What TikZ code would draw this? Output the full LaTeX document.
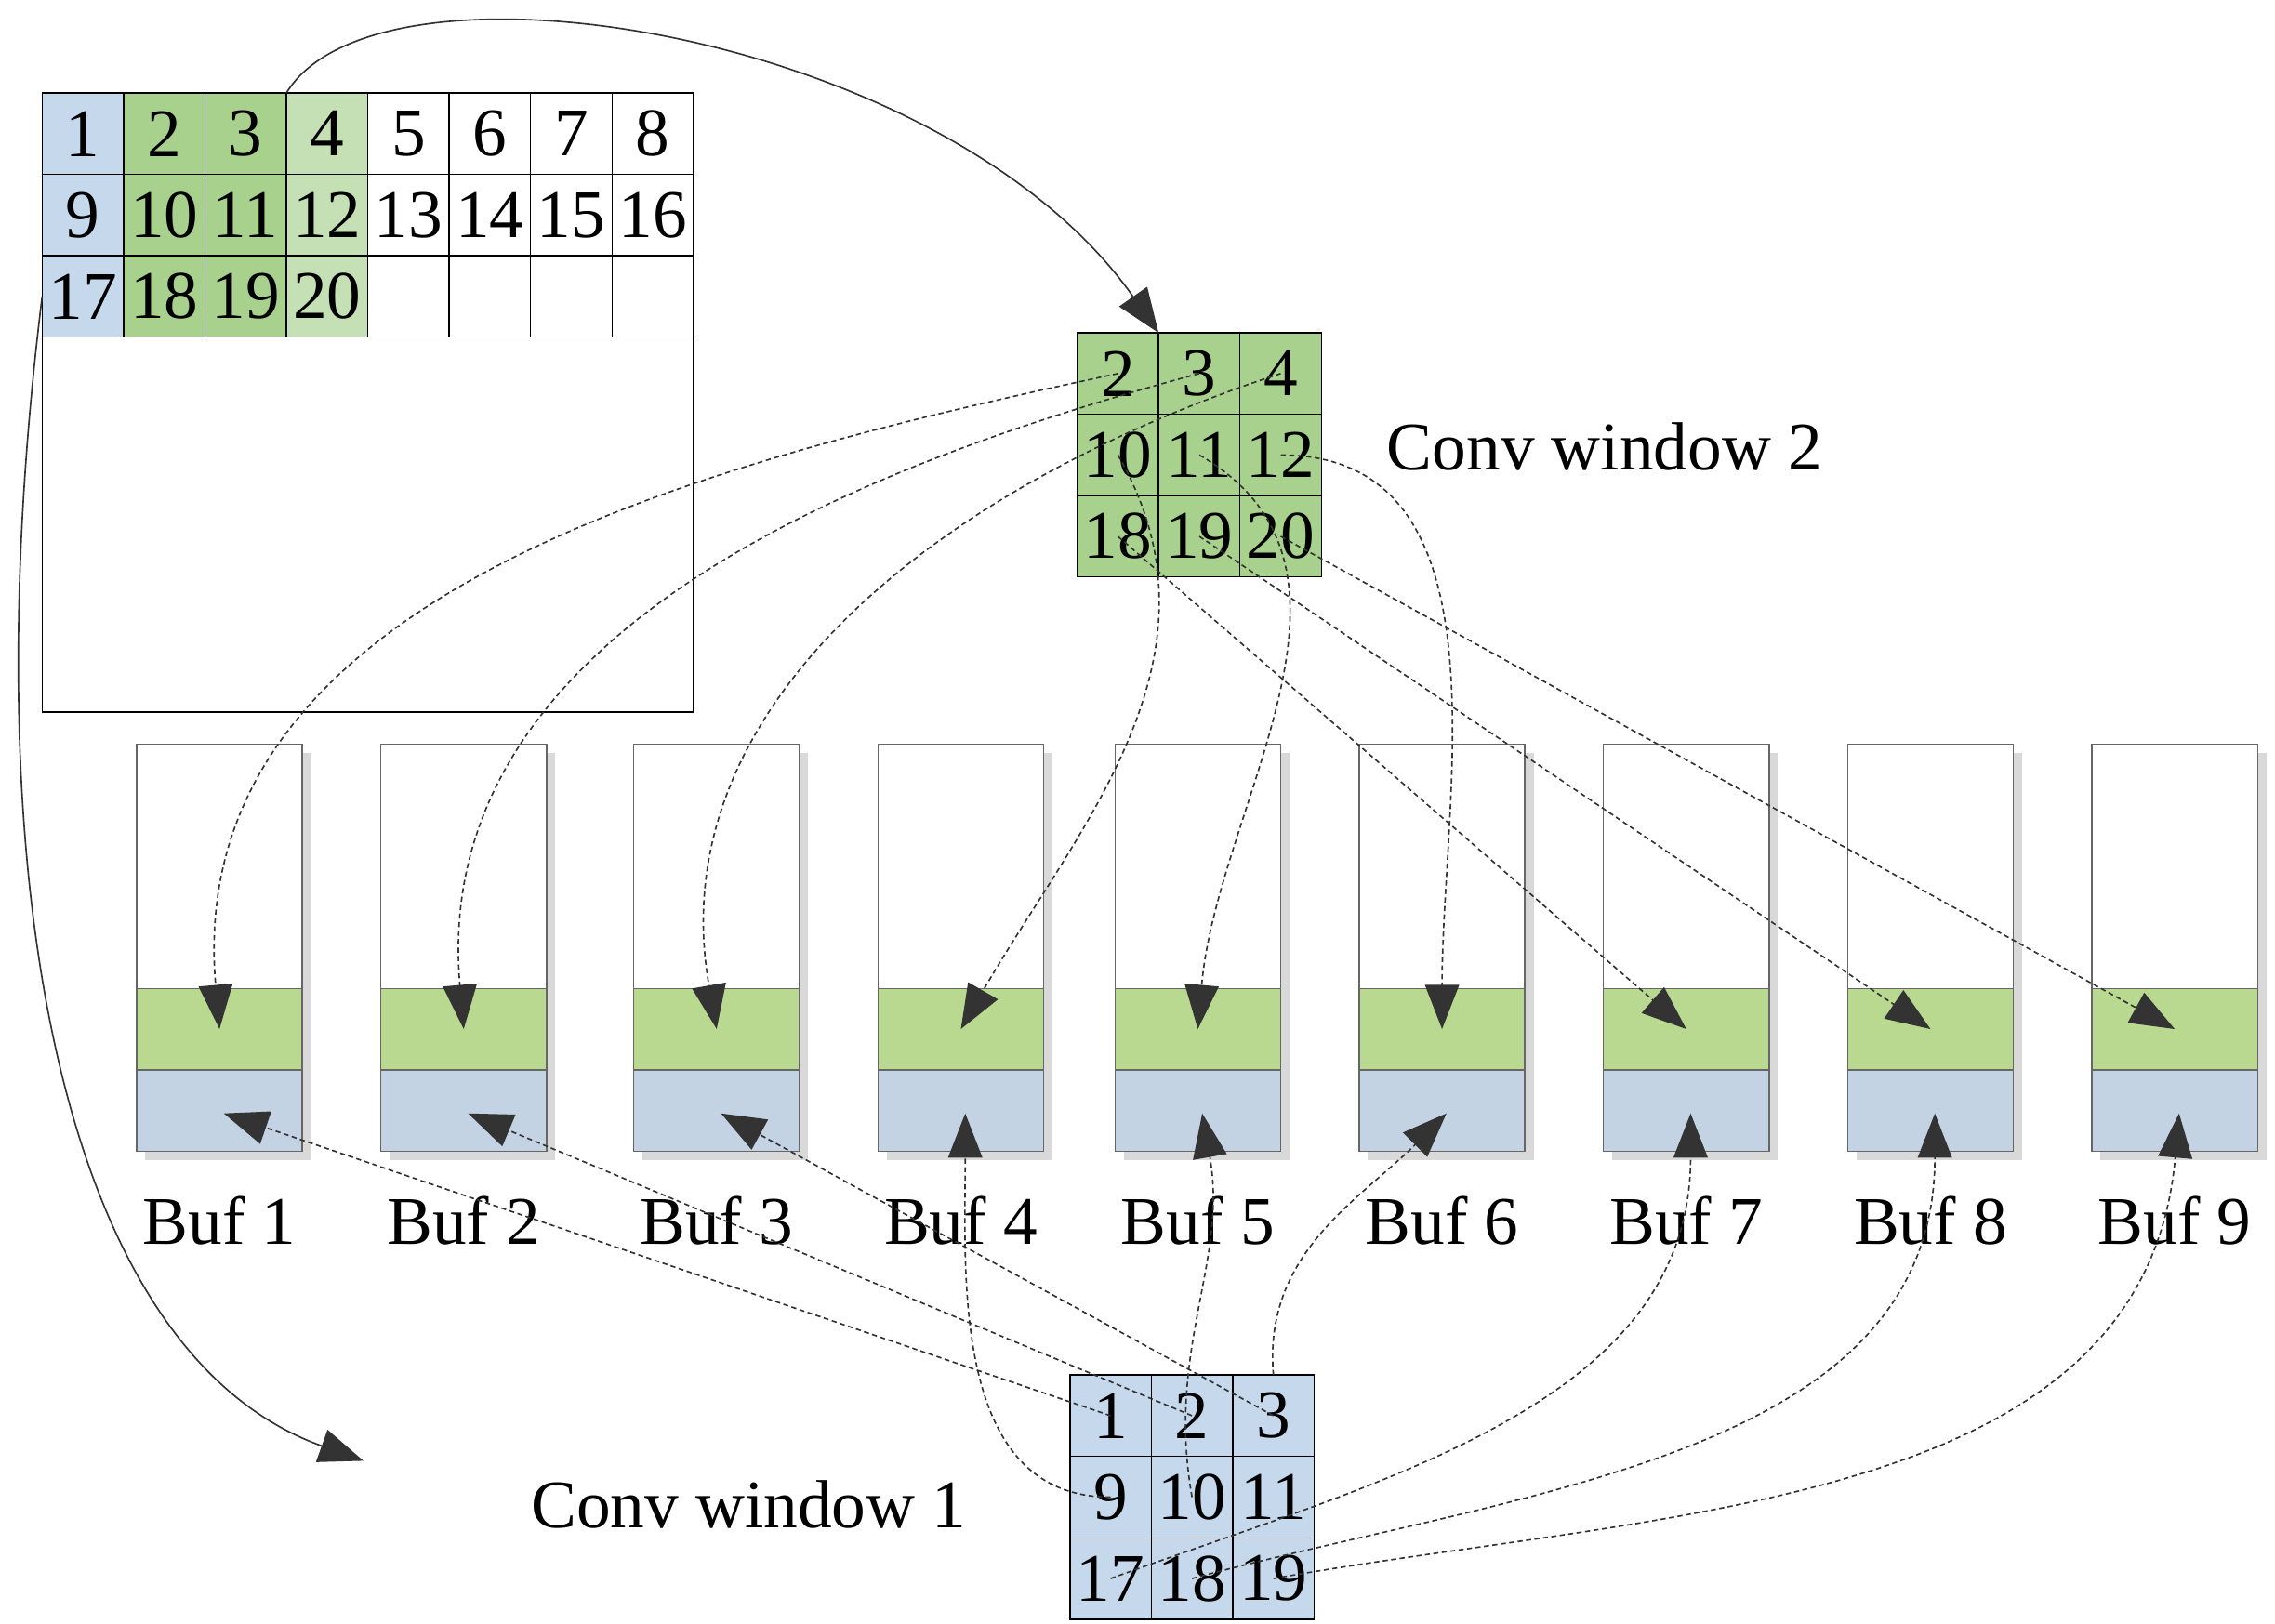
\documentclass[tikz,border=0pt]{standalone}
\usepackage{fontspec}
\setmainfont{Liberation Serif}
\usetikzlibrary{arrows.meta}
\definecolor{lb}{HTML}{C6D9EC}
\definecolor{g1}{HTML}{A9D18E}
\definecolor{g2}{HTML}{C5E0B4}
\definecolor{bg}{HTML}{B8D98F}
\definecolor{bb}{HTML}{C3D3E3}
\begin{document}
\begin{tikzpicture}[x=0.03cm,y=-0.03cm,
 cell/.style={draw=black,line width=0.8pt,minimum size=1.68cm,inner sep=0pt,outer sep=0pt,font=\fontsize{40}{44}\selectfont},
 lab/.style={font=\fontsize{40}{44}\selectfont},
 da/.style={densely dashed,line width=0.9pt,draw=black!80,-{Triangle[length=26pt,width=20pt]}},
 sa/.style={line width=0.9pt,draw=black!80,-{Triangle[length=26pt,width=20pt]}}]
\useasboundingbox (0,0) rectangle (1565,1117);
% big grid
\draw[line width=0.8pt] (29,64) rectangle (477,490);
\foreach \n/\c/\r/\f in {1/0/0/lb,2/1/0/g1,3/2/0/g1,4/3/0/g2,5/4/0/white,6/5/0/white,7/6/0/white,8/7/0/white,
 9/0/1/lb,10/1/1/g1,11/2/1/g1,12/3/1/g2,13/4/1/white,14/5/1/white,15/6/1/white,16/7/1/white,
 17/0/2/lb,18/1/2/g1,19/2/2/g1,20/3/2/g2}
 \node[cell,fill=\f] (m\n) at (57+56*\c,92+56*\r) {\n};
\foreach \c in {4,...,7} \node[cell] (me\c) at (57+56*\c,204) {};
% conv window 2
\foreach \n/\c/\r in {2/0/0,3/1/0,4/2/0,10/0/1,11/1/1,12/2/1,18/0/2,19/1/2,20/2/2}
 \node[cell,fill=g1] (w\n) at (769+56*\c,257+56*\r) {\n};
\node[lab,anchor=west] (l2) at (950,307) {Conv window 2};
% conv window 1
\foreach \n/\c/\r in {1/0/0,2/1/0,3/2/0,9/0/1,10/1/1,11/2/1,17/0/2,18/1/2,19/2/2}
 \node[cell,fill=lb] (v\n) at (764+56*\c,974+56*\r) {\n};
\node[lab] (l1) at (515,1035) {Conv window 1};
% buffers
\foreach \i/\x in {1/94,2/262,3/436,4/604,5/767,6/935,7/1103,8/1271,9/1439}{
 \fill[black!15] (\x+6,518) rectangle (\x+120,798);
 \draw[fill=white,draw=black!60,line width=0.8pt] (\x,512) rectangle (\x+114,680);
 \draw[fill=bg,draw=black!60,line width=0.8pt] (\x,680) rectangle (\x+114,736);
 \draw[fill=bb,draw=black!60,line width=0.8pt] (\x,736) rectangle (\x+114,792);
 \coordinate (bg\i) at (\x+57,708);
 \coordinate (bb\i) at (\x+60,766);
 \node[lab] (bl\i) at (\x+57,840) {Buf \i};
}
% solid arrows
\draw[sa] (m4.north west) .. controls (260,-40) and (650,20) .. (w2.north east);
\draw[sa] (m17.west) .. controls (-20,600) and (40,930) .. (250,1005);
% window 2 arrows
\draw[da] (w2.center) to[out=192,in=95] (bg1);
\draw[da] (w3.center) to[out=195,in=95] (bg2);
\draw[da] (w4.center) to[out=198,in=100] (bg3);
\draw[da] (w10.center) to[out=-60,in=60] (bg4);
\draw[da] (w11.center) to[out=-30,in=85] (bg5);
\draw[da] (w12.center) to[out=0,in=90] (bg6);
\draw[da] (w18.center) -- (bg7);
\draw[da] (w19.center) -- (bg8);
\draw[da] (w20.center) -- (bg9);
% window 1 arrows
\draw[da] (v1.center) -- (bb1);
\draw[da] (v2.center) -- (bb2);
\draw[da] (v3.center) -- (bb3);
\draw[da] (v9.center) to[out=180,in=-90] (bb4);
\draw[da] (v10.center) to[out=100,in=-80] (bb5);
\draw[da] (v3.north) to[out=95,in=-135] (bb6);
\draw[da] (v17.center) to[out=20,in=-90] (bb7);
\draw[da] (v18.center) to[out=15,in=-90] (bb8);
\draw[da] (v19.center) to[out=10,in=-95] (bb9);
\end{tikzpicture}
\end{document}
